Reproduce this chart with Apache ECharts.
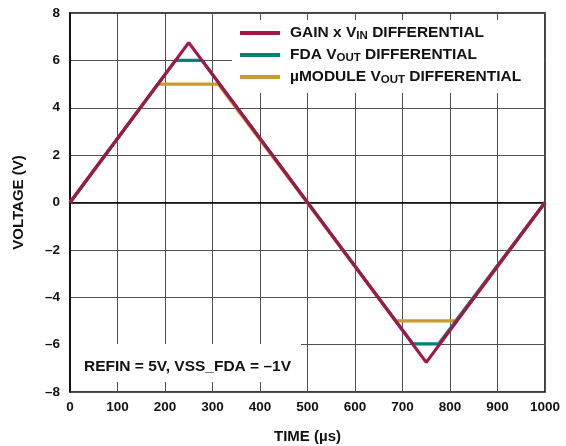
<!DOCTYPE html>
<html><head><meta charset="utf-8">
<script src="https://cdn.jsdelivr.net/npm/echarts@6/dist/echarts.min.js"></script>
<style>html,body{margin:0;padding:0;background:#fff}#c{width:566px;height:446px}</style>
</head><body><div id="c"></div>
<script>
const xTicks = [0, 100, 200, 300, 400, 500, 600, 700, 800, 900, 1000];
const yTicks = [-8, -6, -4, -2, 0, 2, 4, 6, 8];
const seriesNames = ['GAIN x VIN DIFFERENTIAL', 'FDA VOUT DIFFERENTIAL', 'µMODULE VOUT DIFFERENTIAL'];
const gainT = [0, 250, 750, 1000];
const gainV = [0, 6.75, -6.75, 0];
const fdaT = [0, 222, 278, 722, 776, 1000];
const fdaV = [0, 6.0, 6.0, -5.97, -5.97, 0];
const modT = [0, 185, 312, 686, 812, 1000];
const modV = [0, 5.0, 5.0, -5.0, -5.0, 0];
const annotation = 'REFIN = 5V, VSS_FDA = –1V';

const pairs = (t, v) => t.map((x, i) => [x, v[i]]);
const FONT = '"Liberation Sans", Arial, sans-serif';
const colors = ['#A3164B', '#00817A', '#C99A30'];
const chart = echarts.init(document.getElementById('c'));
const richLeg = {
  n: {fontFamily: FONT, fontWeight: 'bold', fontSize: 15.5, color: '#111'},
  s: {fontFamily: FONT, fontWeight: 'bold', fontSize: 11.5, color: '#111', padding: [6, 0, 0, 0]}
};
const legFmt = {
  'GAIN x VIN DIFFERENTIAL': '{n|GAIN x V}{s|IN}{n| DIFFERENTIAL}',
  'FDA VOUT DIFFERENTIAL': '{n|FDA V}{s|OUT}{n| DIFFERENTIAL}',
  'µMODULE VOUT DIFFERENTIAL': '{n|µMODULE V}{s|OUT}{n| DIFFERENTIAL}'
};
chart.setOption({
  animation: false,
  grid: {left: 70, right: 21, top: 13, bottom: 54, containLabel: false, outerBoundsMode: 'none',
    show: true, borderColor: '#000', borderWidth: 1.5, backgroundColor: 'transparent'},
  xAxis: {
    type: 'value', min: 0, max: 1000, interval: 100,
    name: 'TIME (µs)', nameLocation: 'middle', nameGap: 37,
    nameTextStyle: {fontFamily: FONT, fontWeight: 'bold', fontSize: 15, color: '#111'},
    axisLine: {show: true, lineStyle: {color: '#000', width: 1.5}},
    axisTick: {show: false},
    axisLabel: {fontFamily: FONT, fontWeight: 'bold', fontSize: 13.5, color: '#111', margin: 8,
      formatter: v => String(v)},
    splitLine: {show: true, lineStyle: {color: '#505050', width: 1}}
  },
  yAxis: {
    type: 'value', min: -8, max: 8, interval: 2,
    name: 'VOLTAGE (V)', nameLocation: 'middle', nameGap: 44,
    nameTextStyle: {fontFamily: FONT, fontWeight: 'bold', fontSize: 15, color: '#111'},
    axisLine: {show: true, lineStyle: {color: '#000', width: 1.5}},
    axisTick: {show: false},
    axisLabel: {fontFamily: FONT, fontWeight: 'bold', fontSize: 13.5, color: '#111', margin: 10,
      formatter: v => String(v).replace('-', '–')},
    splitLine: {show: true, lineStyle: {color: '#505050', width: 1}}
  },
  legend: {
    data: seriesNames, orient: 'vertical', left: 240, top: 25, itemGap: 5, padding: 0,
    itemWidth: 40, itemHeight: 4, icon: 'rect', z: 10,
    formatter: n => legFmt[n],
    textStyle: {rich: richLeg, padding: [0, 0, 0, 5]}
  },
  graphic: [
    {type: 'rect', z: 3, shape: {x: 232, y: 20, width: 312, height: 73}, style: {fill: '#fff'}},
    {type: 'rect', z: 3, shape: {x: 71, y: 344, width: 230, height: 38}, style: {fill: '#fff'}},
    {type: 'text', z: 4, left: 84, top: 359, style: {text: annotation, font: 'bold 15.5px ' + FONT, fill: '#111'}}
  ],
  series: [
    {name: seriesNames[2], type: 'line', data: pairs(modT, modV), symbol: 'none', z: 2, lineStyle: {color: colors[2], width: 3.2}, itemStyle: {color: colors[2]}},
    {name: seriesNames[1], type: 'line', data: pairs(fdaT, fdaV), symbol: 'none', z: 3, lineStyle: {color: colors[1], width: 3.2}, itemStyle: {color: colors[1]}},
    {name: seriesNames[0], type: 'line', data: pairs(gainT, gainV), symbol: 'none', z: 4, lineStyle: {color: colors[0], width: 3.2}, itemStyle: {color: colors[0]}}
  ]
});
</script></body></html>
